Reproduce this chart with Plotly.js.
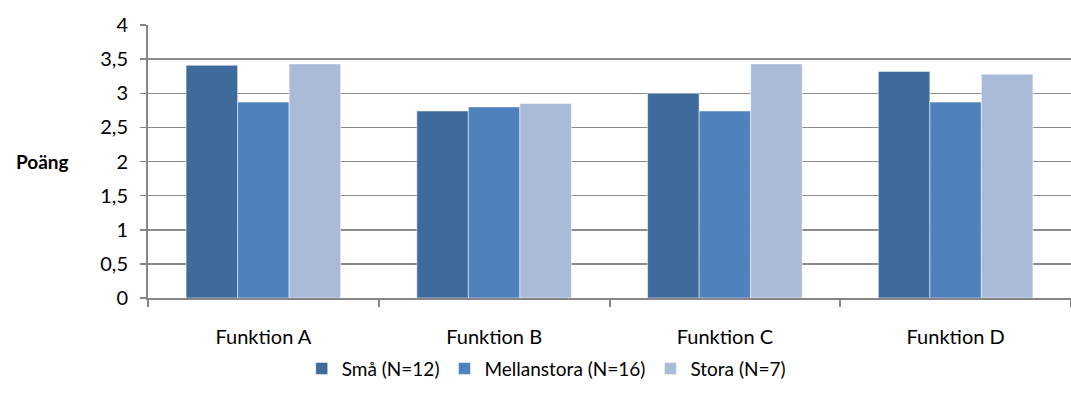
<!DOCTYPE html>
<html><head><meta charset="utf-8">
<script src="https://cdn.plot.ly/plotly-3.0.1.min.js"></script>
<style>body{margin:0;background:#fff}#c{width:1071px;height:405px}</style>
</head><body><div id="c"></div>
<script>
const categories = ["Funktion A", "Funktion B", "Funktion C", "Funktion D"];
const seriesNames = ["Små (N=12)", "Mellanstora (N=16)", "Stora (N=7)"];
const sma = [3.41, 2.74, 3.00, 3.32];
const mellanstora = [2.87, 2.80, 2.74, 2.87];
const stora = [3.43, 2.85, 3.43, 3.28];
const yTicks = [0, 0.5, 1, 1.5, 2, 2.5, 3, 3.5, 4];

const colors = ["#3F6A9C", "#4F81BD", "#AABBD8"];
const vals = [sma, mellanstora, stora];
const font = "Lato, 'Open Sans', 'Liberation Sans', sans-serif";
const traces = vals.map((v, i) => ({
  type: "bar", x: categories, y: v, name: seriesNames[i],
  marker: {color: colors[i], line: {color: "rgba(255,255,255,0.5)", width: 1}}
}));
const layout = {
  width: 1071, height: 405,
  margin: {l: 148, r: 0, t: 25, b: 107},
  separators: ", ",
  bargap: 0.33, bargroupgap: 0,
  paper_bgcolor: "#fff", plot_bgcolor: "#fff",
  font: {family: font, size: 20, color: "#000"},
  showlegend: true,
  legend: {orientation: "h", xref: "container", yref: "container", x: 0.51, xanchor: "center", y: 0.09, yanchor: "middle",
           font: {size: 19}, itemwidth: 30, traceorder: "normal"},
  xaxis: {type: "category", range: [-0.5, 3.5], showgrid: false, showline: true, linecolor: "#868686", linewidth: 2,
          ticks: "outside", tickson: "boundaries", ticklen: 7, tickcolor: "#868686", tickwidth: 2,
          ticklabelstandoff: 20, tickfont: {size: 20}},
  yaxis: {range: [0, 4], tickvals: yTicks, ticktext: yTicks.map(v => String(v).replace(".", ",")),
          showgrid: true, gridcolor: "#8c8c8c", gridwidth: 1.5, zeroline: false,
          showline: true, linecolor: "#868686", linewidth: 2,
          ticks: "outside", ticklen: 6, tickcolor: "#868686", tickwidth: 1.5, tickfont: {size: 20},
          ticklabelstandoff: 8},
  annotations: [{text: "<b>Poäng</b>", xref: "paper", yref: "paper", x: -0.114, y: 0.5, xanchor: "center", yanchor: "middle",
                 showarrow: false, font: {size: 19}}]
};
Plotly.newPlot("c", traces, layout, {staticPlot: true});
</script></body></html>
